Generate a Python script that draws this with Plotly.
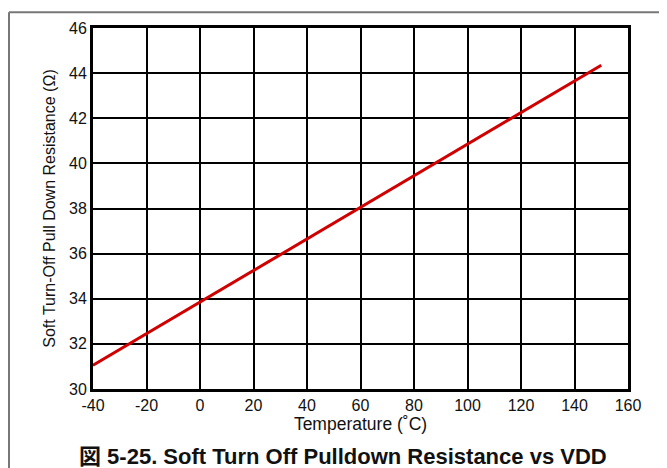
import plotly.graph_objects as go

# values
temperature = [-40, -20, 0, 20, 40, 60, 80, 100, 120, 140, 150]
resistance = [31.05, 32.45, 33.85, 35.25, 36.65, 38.05, 39.45, 40.85, 42.25, 43.65, 44.35]

x_ticks = [-40, -20, 0, 20, 40, 60, 80, 100, 120, 140, 160]
x_labels = ["-40", "-20", "0", "20", "40", "60", "80", "100", "120", "140", "160"]
y_ticks = [30, 32, 34, 36, 38, 40, 42, 44, 46]

FONT = "Liberation Sans, Arial, Noto Sans CJK JP, sans-serif"

fig = go.Figure()
fig.add_trace(
    go.Scatter(
        x=temperature,
        y=resistance,
        mode="lines",
        line=dict(color="#d00000", width=3),
        showlegend=False,
    )
)

# page body adds an 8px offset, so work in screen pixels and shift
OFF = 8
W, H = 667, 468
# plot area on screen: x 93..628, y 25..389
L, R, T, B = 93 - OFF, W - (628 - OFF), 25 - OFF, H - (389 - OFF)
pw, ph = W - L - R, H - T - B


def px_x(sx):
    return (sx - OFF - L) / pw


def px_y(sy):
    return (H - B - (sy - OFF)) / ph


axis_common = dict(
    showgrid=True,
    gridcolor="black",
    gridwidth=2,
    showline=True,
    linecolor="black",
    linewidth=3,
    mirror=True,
    ticks="",
    zeroline=False,
    tickfont=dict(family=FONT, size=16, color="#111"),
)

fig.update_xaxes(
    range=[-40, 160],
    tickvals=x_ticks,
    ticktext=x_labels,
    title=dict(text="Temperature (˚C)", font=dict(family=FONT, size=17.5, color="#111"), standoff=2),
    **axis_common,
)
fig.update_yaxes(
    range=[30, 46],
    tickvals=y_ticks,
    title=dict(
        text="Soft Turn-Off Pull Down Resistance (Ω)",
        font=dict(family=FONT, size=16, color="#111"),
        standoff=10,
    ),
    **axis_common,
)

# caption below the chart
fig.add_annotation(
    text="<b>図 5-25. Soft Turn Off Pulldown Resistance vs VDD</b>",
    xref="paper",
    yref="paper",
    x=px_x(343),
    y=px_y(457),
    xanchor="center",
    yanchor="middle",
    showarrow=False,
    font=dict(family=FONT, size=22, color="#111"),
)

# outer frame lines (top and left only)
fig.add_shape(type="line", xref="paper", yref="paper",
              x0=px_x(9), x1=px_x(680), y0=px_y(9), y1=px_y(9),
              line=dict(color="#777", width=2))
fig.add_shape(type="line", xref="paper", yref="paper",
              x0=px_x(9), x1=px_x(9), y0=px_y(9), y1=px_y(480),
              line=dict(color="#777", width=2))

fig.update_layout(
    width=W,
    height=H,
    margin=dict(l=L, r=R, t=T, b=B),
    plot_bgcolor="white",
    paper_bgcolor="white",
    font=dict(family=FONT),
)

fig.write_html("out.html")
